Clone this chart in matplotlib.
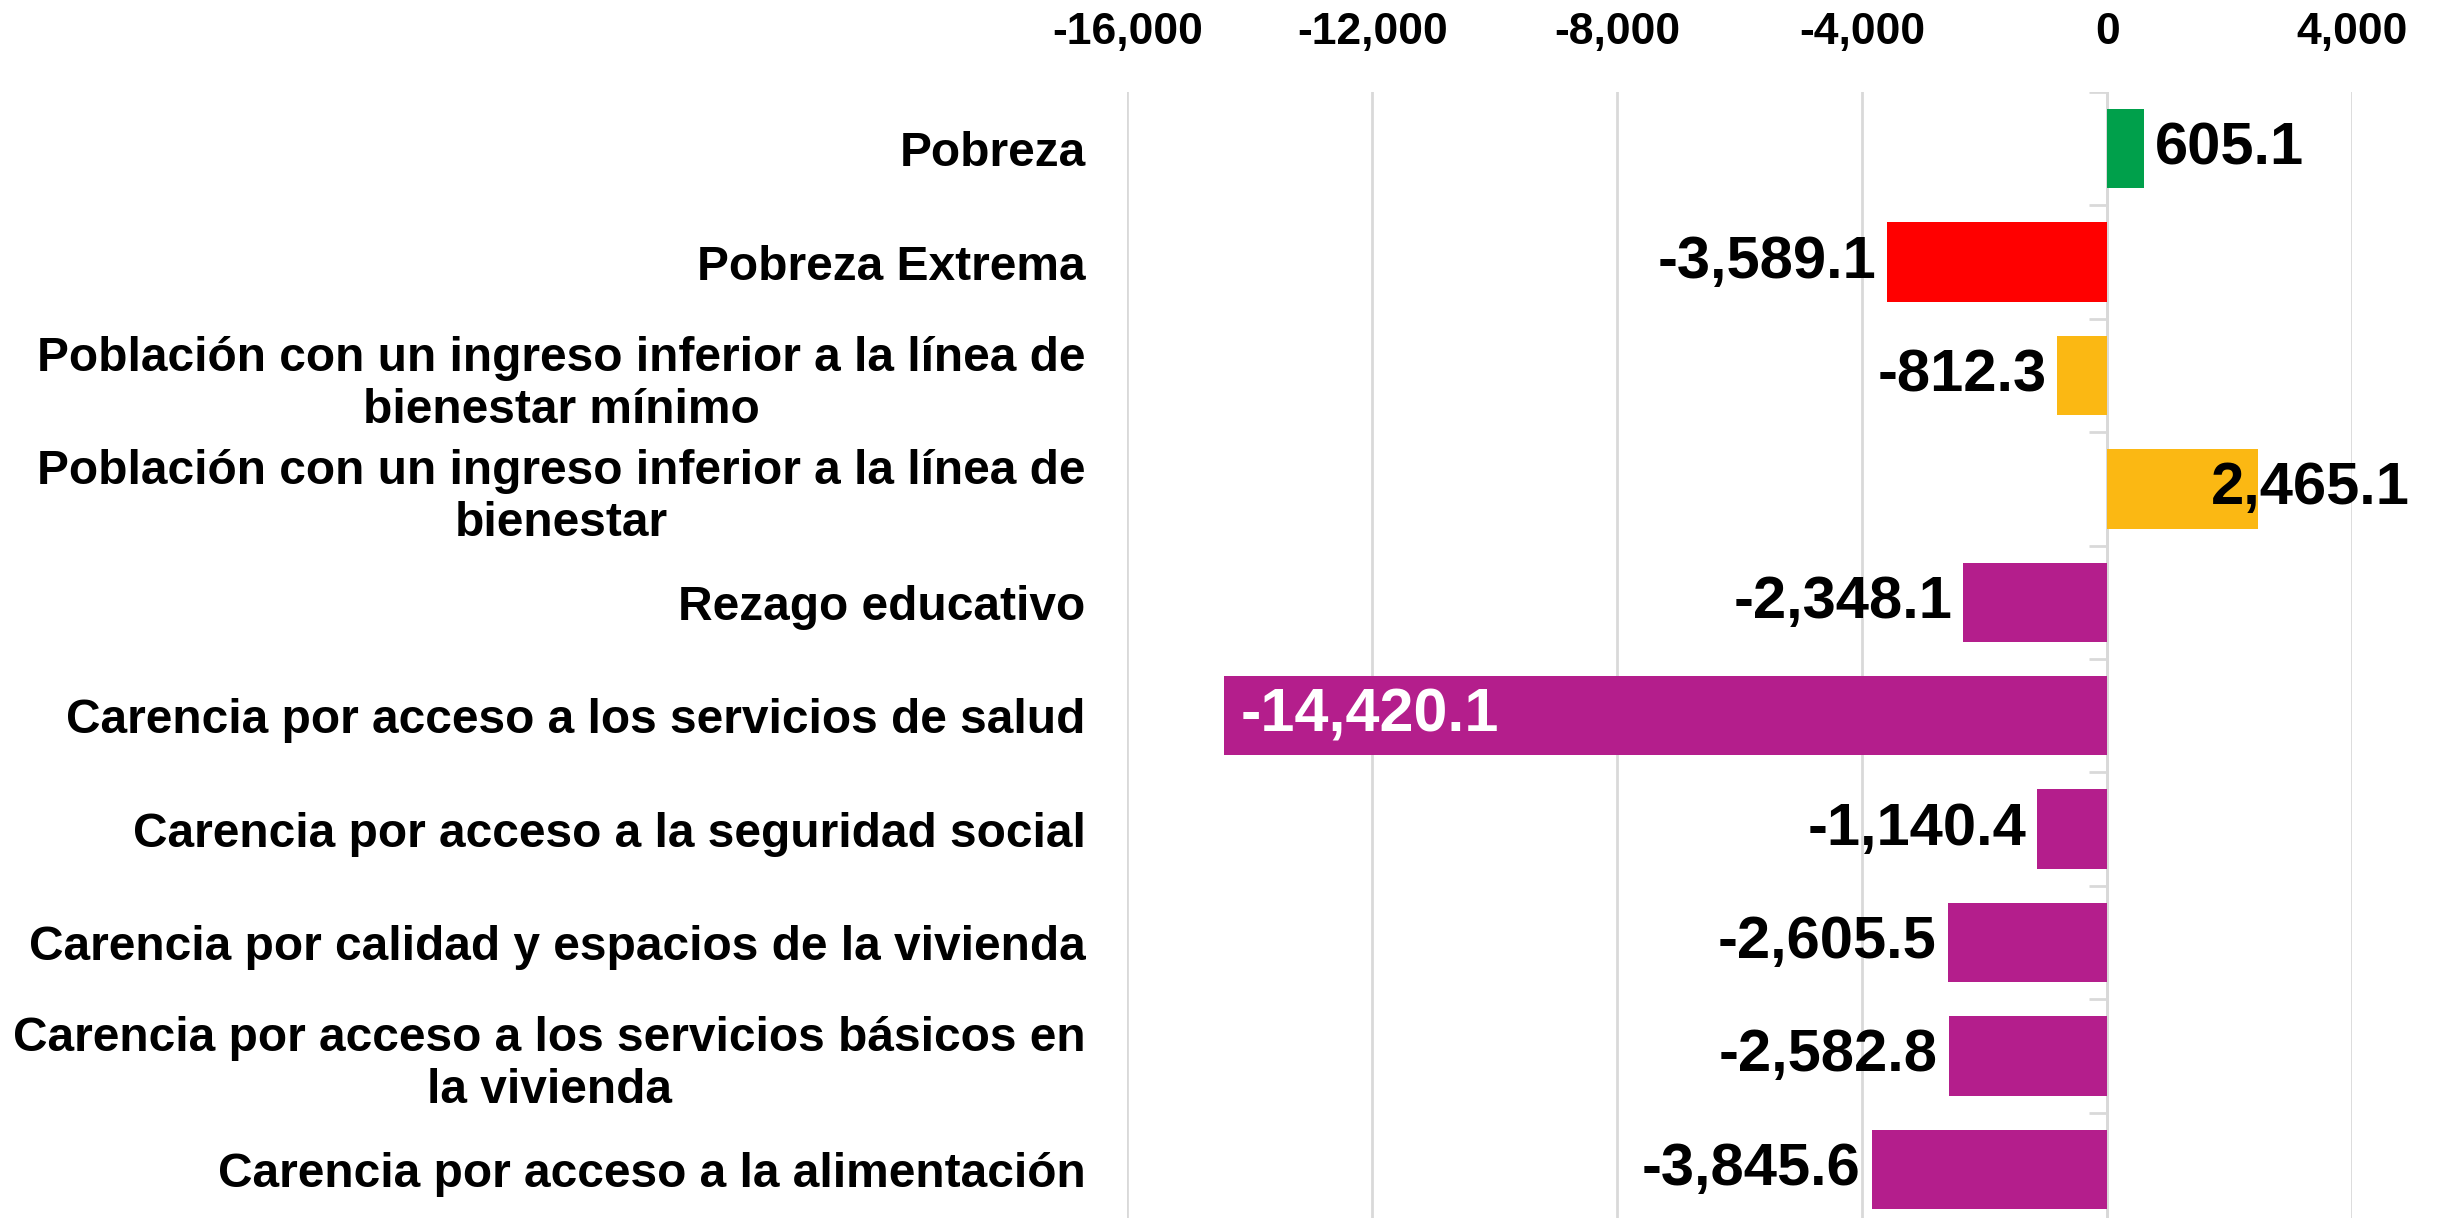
import matplotlib
matplotlib.use("Agg")
import matplotlib.pyplot as plt
from matplotlib.ticker import FuncFormatter

plt.rcParams['font.family'] = ['Liberation Sans', 'DejaVu Sans']
plt.rcParams['font.weight'] = 'bold'

# Datos
categorias = [
    "Pobreza",
    "Pobreza Extrema",
    "Población con un ingreso inferior a la línea de\nbienestar mínimo",
    "Población con un ingreso inferior a la línea de\nbienestar",
    "Rezago educativo",
    "Carencia por acceso a los servicios de salud",
    "Carencia por acceso a la seguridad social",
    "Carencia por calidad y espacios de la vivienda",
    "Carencia por acceso a los servicios básicos en\nla vivienda",
    "Carencia por acceso a la alimentación",
]
valores = [605.1, -3589.1, -812.3, 2465.1, -2348.1, -14420.1, -1140.4, -2605.5, -2582.8, -3845.6]
colores = ["#00A04B", "#FF0000", "#FBB813", "#FBB813", "#B41E8C",
           "#B41E8C", "#B41E8C", "#B41E8C", "#B41E8C", "#B41E8C"]
ticks_x = [-16000, -12000, -8000, -4000, 0, 4000]

fig = plt.figure(figsize=(24.4, 12.18), dpi=100)
ax = fig.add_axes([0.462, -0.0066, 0.502, 0.931])

pos = list(range(len(categorias)))
ax.barh(pos, valores, height=0.70, color=colores, zorder=3)

ax.set_xlim(ticks_x[0], ticks_x[-1])
ax.set_ylim(len(categorias) - 0.5, -0.5)
ax.set_xticks(ticks_x)
ax.xaxis.set_major_formatter(FuncFormatter(lambda v, p: f"{v:,.0f}"))
ax.xaxis.tick_top()
ax.tick_params(axis='x', length=0, pad=28, labelsize=32)
ax.grid(axis='x', color='#D9D9D9', linewidth=2, zorder=0)

ax.set_yticks(pos)
ax.set_yticklabels(categorias, fontsize=34.5)
ax.tick_params(axis='y', length=0, pad=30)
for lbl in ax.get_yticklabels():
    lbl.set_multialignment('center')

for s in ax.spines.values():
    s.set_visible(False)

# eje en cero con marcas entre categorias
ax.axvline(0, color='#D9D9D9', linewidth=2, zorder=2)
limites = [i - 0.5 for i in range(len(categorias) + 1)]
ax.hlines(limites, -300, 0, color='#D9D9D9', linewidth=2, zorder=2)

# etiquetas de datos
for i, v in enumerate(valores):
    txt = f"{v:,.1f}"
    if v == min(valores):
        ax.annotate(txt, (v, i), xytext=(12, 0), textcoords='offset points',
                    ha='left', va='center', fontsize=44, color='white', zorder=4)
    elif v > 2000:
        ax.annotate(txt, (v, i), xytext=(-34, 0), textcoords='offset points',
                    ha='left', va='center', fontsize=43, color='black', zorder=4)
    elif v > 0:
        ax.annotate(txt, (v, i), xytext=(8, 0), textcoords='offset points',
                    ha='left', va='center', fontsize=43, color='black', zorder=4)
    else:
        ax.annotate(txt, (v, i), xytext=(-8, 0), textcoords='offset points',
                    ha='right', va='center', fontsize=43, color='black', zorder=4)

fig.savefig("out.png", dpi=100)
